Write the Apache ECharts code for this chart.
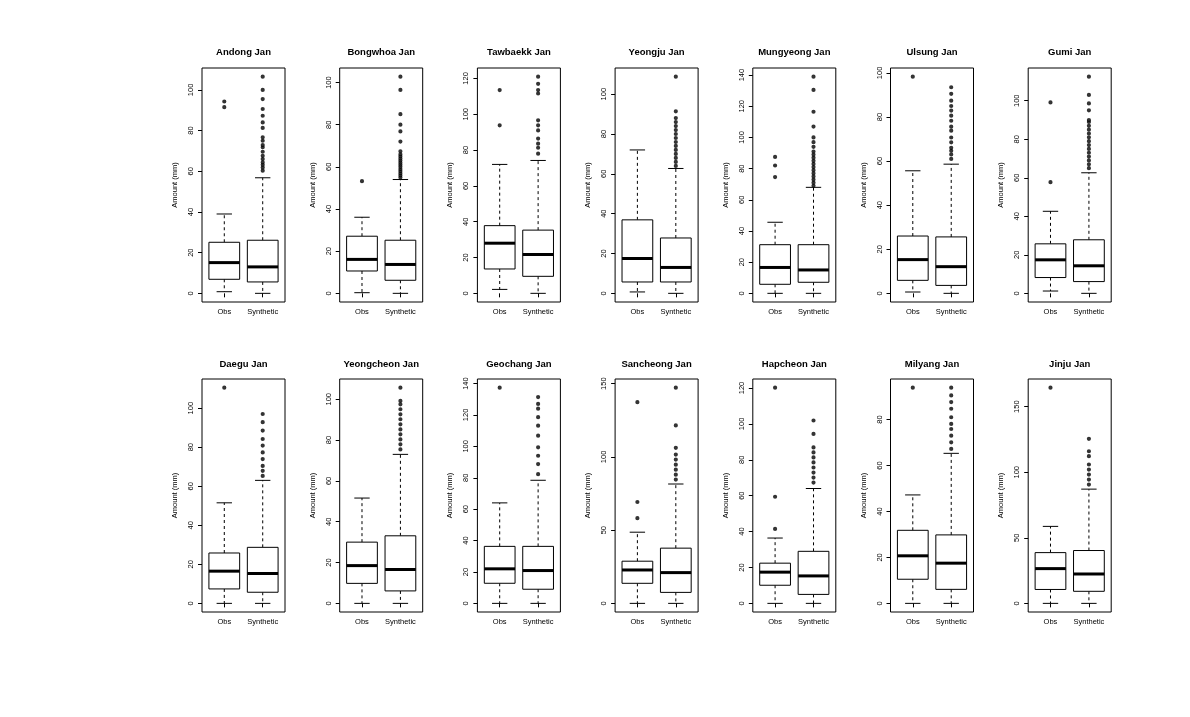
<!DOCTYPE html>
<html><head><meta charset="utf-8">
<script src="https://cdn.jsdelivr.net/npm/echarts@6/dist/echarts.min.js"></script>
<style>html,body{margin:0;padding:0;background:#fff}#c{width:1190px;height:717px}</style>
</head><body><div id="c"></div>
<script>
// ---------- data ----------
const stations = ['Andong','Bongwhoa','Tawbaekk','Yeongju','Mungyeong','Ulsung','Gumi',
                  'Daegu','Yeongcheon','Geochang','Sancheong','Hapcheon','Milyang','Jinju'];
const groupLabels = ['Obs', 'Synthetic'];

// [lower whisker, Q1, median, Q3, upper whisker]
const obsStats = [
  [0.8, 6.9, 15.1, 25.1, 39],
  [0.3, 10.6, 16.1, 27.1, 36.1],
  [2.2, 13.6, 28, 37.8, 72],
  [0.7, 5.7, 17.5, 36.9, 72],
  [0, 5.8, 16.6, 31.2, 45.6],
  [0.6, 5.9, 15.3, 26, 55.6],
  [1.2, 8.2, 17.4, 25.7, 42.6],
  [0, 7.4, 16.5, 25.8, 51.5],
  [0, 9.8, 18.5, 30, 51.6],
  [0, 12.8, 22, 36.3, 64],
  [0, 13.7, 22.8, 28.8, 48.6],
  [0, 10.1, 17.4, 22.4, 36.4],
  [0, 10.5, 20.7, 31.8, 47.2],
  [0, 10.6, 26.5, 38.7, 58.7]
];
const synStats = [
  [0, 5.6, 13, 26.1, 56.8],
  [0, 6.2, 13.7, 25.2, 54],
  [0, 9.5, 21.7, 35.3, 74.2],
  [0, 5.7, 13, 27.8, 62.7],
  [0, 7.1, 15, 31.2, 68],
  [0, 3.6, 12.1, 25.6, 58.6],
  [0, 6.1, 14.3, 27.8, 62.6],
  [0, 5.7, 15.3, 28.7, 63],
  [0, 6.1, 16.6, 33.1, 73],
  [0, 9, 20.9, 36.3, 78.4],
  [0, 7.5, 21, 37.7, 81.5],
  [0, 5, 15.3, 29, 64],
  [0, 6.1, 17.5, 29.8, 65.3],
  [0, 9.2, 22.4, 40.3, 87.1]
];
const obsOutliers = [
  [94.3, 91.5],
  [53.2],
  [93.8, 113.5],
  [],
  [74.6, 82, 87.5],
  [98.3],
  [57.7, 99.1],
  [110.5],
  [],
  [137.4],
  [58.2, 69.2, 137.4],
  [41.5, 59.4, 120.2],
  [93.9],
  [164.5]
];
const synOutliers = [
  [60.3, 61.9, 63.2, 64.4, 66, 67.6, 69.6, 71.8, 72.9, 75, 76.7, 81.3, 84, 87.3, 90.6, 95.5, 100, 106.5],
  [55, 56, 57, 58, 59, 60, 61, 62, 63, 64, 65, 66, 67.4, 72, 76.8, 80, 85, 96.5, 102.8],
  [78, 81.3, 83.6, 86.4, 91, 93.8, 96.6, 111.6, 113.5, 117, 121],
  [64, 66, 68, 70, 72, 74, 76, 78, 80, 82, 84, 86, 88, 91.4, 108.8],
  [69, 71, 73, 75, 77, 79, 81, 83, 85, 87, 89, 91, 94, 97, 100, 107, 116.5, 130.5, 139],
  [61, 63, 64.7, 66, 68.5, 70.7, 73.8, 75.6, 78.3, 80.6, 82.9, 85, 87.4, 90.5, 93.5],
  [65, 67, 69, 71, 73, 75, 77, 79, 81, 83, 85, 87, 89, 90, 95, 98.6, 103, 112.5],
  [65.3, 67.9, 70.4, 73.9, 77.3, 80.8, 84.2, 88.5, 92.8, 97],
  [75.4, 77.9, 80.3, 82.8, 85.2, 87.7, 90.2, 92.6, 95.1, 97.5, 99.2, 105.7],
  [82.3, 88.7, 94, 99.4, 106.8, 113.2, 118.6, 124, 127, 131.4],
  [84.5, 87.9, 91.3, 94.7, 98.2, 101.6, 106.2, 121.5, 147.3],
  [67.3, 70.1, 72.9, 75.7, 78.5, 81.3, 84.1, 86.9, 94.4, 101.9],
  [67.2, 70.1, 73, 75.9, 78.1, 81, 84.7, 87.6, 90.5, 93.9],
  [90.6, 94.4, 98.2, 102, 105.9, 112.2, 116, 125.5]
];
const yTicks = [
  [0,20,40,60,80,100],
  [0,20,40,60,80,100],
  [0,20,40,60,80,100,120],
  [0,20,40,60,80,100],
  [0,20,40,60,80,100,120,140],
  [0,20,40,60,80,100],
  [0,20,40,60,80,100],
  [0,20,40,60,80,100],
  [0,20,40,60,80,100],
  [0,20,40,60,80,100,120,140],
  [0,50,100,150],
  [0,20,40,60,80,100,120],
  [0,20,40,60,80],
  [0,50,100,150]
];

// ---------- layout ----------
const FONT = '"Liberation Sans", Arial, sans-serif';
const LEFT0 = 202, COL_STEP = 137.7, GW = 83;
const ROW_TOP = [68, 379], GH = [234, 233];
const TITLE_Y = [52, 364];

const grids = [], xAxes = [], yAxes = [], series = [], graphics = [];

function renderBox(params, api) {
  const x = api.value(0);
  const lo = api.value(1), q1 = api.value(2), med = api.value(3), q3 = api.value(4), hi = api.value(5);
  const hw = 0.4, sw = 0.2;
  const c = (a, b) => api.coord([a, b]);
  const tl = c(x - hw, q3), br = c(x + hw, q1);
  const line = (p1, p2, w, dash) => ({
    type: 'line',
    shape: { x1: p1[0], y1: p1[1], x2: p2[0], y2: p2[1] },
    style: { stroke: '#000', lineWidth: w, lineDash: dash || null }
  });
  return {
    type: 'group',
    children: [
      line(c(x, q3), c(x, hi), 1, [3, 3]),
      line(c(x, q1), c(x, lo), 1, [3, 3]),
      line(c(x - sw, hi), c(x + sw, hi), 1),
      line(c(x - sw, lo), c(x + sw, lo), 1),
      { type: 'rect', shape: { x: tl[0], y: tl[1], width: br[0] - tl[0], height: br[1] - tl[1] },
        style: { fill: '#fff', stroke: '#000', lineWidth: 1 } },
      line(c(x - hw, med), c(x + hw, med), 3)
    ]
  };
}

stations.forEach((name, i) => {
  const row = i < 7 ? 0 : 1;
  const col = i % 7;
  const left = LEFT0 + col * COL_STEP;
  const all = [].concat(obsStats[i], synStats[i], obsOutliers[i], synOutliers[i]);
  const R = Math.max.apply(null, all);
  grids.push({ left: left, top: ROW_TOP[row], width: GW, height: GH[row],
    show: true, borderColor: '#000', borderWidth: 1, backgroundColor: 'transparent' });
  xAxes.push({
    gridIndex: i, type: 'value', min: 0.42, max: 2.58,
    axisLine: { show: false }, splitLine: { show: false },
    axisTick: { show: true, length: 4, lineStyle: { color: '#000' }, customValues: [1, 2] },
    axisLabel: { show: true, margin: 6, fontSize: 7.5, color: '#000', fontFamily: FONT,
      customValues: [1, 2], formatter: v => groupLabels[Math.round(v) - 1] }
  });
  yAxes.push({
    gridIndex: i, type: 'value', min: -0.04 * R, max: 1.04 * R,
    name: 'Amount (mm)', nameLocation: 'middle', nameGap: 23,
    nameTextStyle: { fontSize: 7.5, color: '#000', fontFamily: FONT },
    axisLine: { show: false }, splitLine: { show: false },
    axisTick: { show: true, length: 4, lineStyle: { color: '#000' }, customValues: yTicks[i] },
    axisLabel: { show: true, rotate: 90, margin: 7, fontSize: 7.5, color: '#000', fontFamily: FONT,
      customValues: yTicks[i] }
  });
  series.push({
    type: 'custom', xAxisIndex: i, yAxisIndex: i,
    encode: { x: 0, y: [1, 2, 3, 4, 5] },
    renderItem: renderBox,
    data: [[1].concat(obsStats[i]), [2].concat(synStats[i])],
    silent: true
  });
  series.push({
    type: 'scatter', xAxisIndex: i, yAxisIndex: i,
    symbol: 'emptyCircle', symbolSize: 2.2,
    itemStyle: { color: '#000', borderColor: '#000', borderWidth: 0.5 },
    data: obsOutliers[i].map(v => [1, v]).concat(synOutliers[i].map(v => [2, v])),
    silent: true
  });
  graphics.push({
    type: 'text', x: left + GW / 2, y: TITLE_Y[row],
    style: { text: name + ' Jan', textAlign: 'center', textVerticalAlign: 'middle',
      font: 'bold 9.5px ' + FONT, fill: '#000' }
  });
});

const chart = echarts.init(document.getElementById('c'), null, { renderer: 'canvas' });
chart.setOption({
  backgroundColor: '#fff',
  animation: false,
  grid: grids, xAxis: xAxes, yAxis: yAxes, series: series,
  graphic: graphics
});
</script>
</body></html>
